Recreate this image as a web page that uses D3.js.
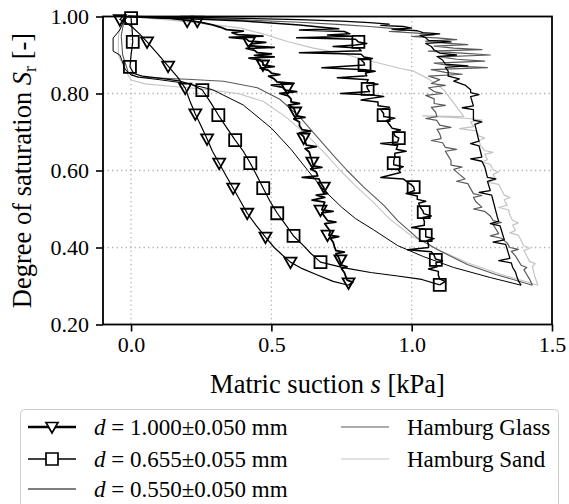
<!DOCTYPE html>
<html>
<head>
<meta charset="utf-8">
<script src="https://cdn.jsdelivr.net/npm/d3@7"></script>
<style>
body { margin: 0; background: #fff; }
text { font-family: "Liberation Serif", "Times New Roman", serif; fill: #000; }
</style>
</head>
<body>
<div class="canvas"></div>
<script>
const dims = {width: 569, height: 504};
const plot = {left: 103, top: 16.5, right: 552, bottom: 324.5};

// tick labels
const xTicks = [0.0, 0.5, 1.0, 1.5];
const yTicks = [0.20, 0.40, 0.60, 0.80, 1.00];

// d = 1.000 mm : drainage (noisy) and wetting
const d1000Drain = [[-0.01,1.0],[0.06,0.998],[0.14,0.995],[0.2,0.99],[0.25,0.985],[0.29,0.978],[0.32,0.972],[0.34,0.966],[0.40,0.962],[0.36,0.958],[0.38,0.953],[0.47,0.949],[0.35,0.946],[0.41,0.942],[0.42,0.936],[0.48,0.933],[0.43,0.929],[0.42,0.924],[0.51,0.92],[0.41,0.917],[0.44,0.912],[0.45,0.906],[0.50,0.903],[0.44,0.899],[0.51,0.895],[0.42,0.892],[0.46,0.887],[0.47,0.88],[0.47,0.874],[0.51,0.87],[0.46,0.866],[0.49,0.86],[0.50,0.853],[0.53,0.849],[0.49,0.845],[0.51,0.838],[0.52,0.83],[0.58,0.826],[0.50,0.822],[0.54,0.816],[0.55,0.809],[0.59,0.805],[0.53,0.8],[0.56,0.794],[0.57,0.786],[0.57,0.778],[0.60,0.774],[0.56,0.77],[0.58,0.762],[0.585,0.752],[0.59,0.742],[0.62,0.738],[0.58,0.734],[0.60,0.726],[0.60,0.716],[0.61,0.706],[0.64,0.702],[0.60,0.698],[0.615,0.688],[0.62,0.676],[0.625,0.666],[0.66,0.662],[0.62,0.657],[0.635,0.648],[0.64,0.636],[0.645,0.624],[0.65,0.612],[0.68,0.608],[0.64,0.604],[0.66,0.596],[0.665,0.586],[0.61,0.582],[0.67,0.578],[0.675,0.568],[0.685,0.558],[0.69,0.548],[0.70,0.54],[0.66,0.536],[0.69,0.53],[0.645,0.523],[0.69,0.518],[0.685,0.508],[0.68,0.498],[0.72,0.494],[0.68,0.49],[0.69,0.48],[0.70,0.47],[0.73,0.466],[0.69,0.462],[0.70,0.452],[0.71,0.442],[0.705,0.432],[0.74,0.428],[0.71,0.424],[0.72,0.414],[0.725,0.402],[0.73,0.392],[0.76,0.388],[0.73,0.384],[0.74,0.374],[0.745,0.364],[0.75,0.354],[0.77,0.35],[0.75,0.345],[0.76,0.335],[0.765,0.325],[0.77,0.315],[0.79,0.31],[0.775,0.302]];
const d1000DrainMarks = [[0.2,0.988],[0.236,0.988],[0.42,0.934],[0.47,0.874],[0.557,0.814],[0.585,0.752],[0.615,0.684],[0.646,0.622],[0.687,0.557],[0.675,0.497],[0.70,0.432],[0.746,0.368],[0.775,0.308]];
const d1000Wet = [[0.775,0.302],[0.72,0.312],[0.66,0.33],[0.61,0.345],[0.568,0.362],[0.54,0.38],[0.51,0.4],[0.479,0.427],[0.445,0.458],[0.414,0.489],[0.39,0.52],[0.364,0.554],[0.338,0.587],[0.314,0.619],[0.29,0.65],[0.271,0.682],[0.25,0.715],[0.229,0.747],[0.21,0.78],[0.193,0.814],[0.165,0.843],[0.132,0.871],[0.095,0.903],[0.057,0.934],[0.03,0.955],[0.005,0.972],[-0.02,0.985],[-0.04,0.992],[-0.03,1.0]];
const d1000WetMarks = [[0.568,0.362],[0.479,0.427],[0.414,0.489],[0.364,0.554],[0.314,0.619],[0.271,0.682],[0.229,0.747],[0.193,0.814],[0.132,0.871],[0.057,0.934],[-0.04,0.992]];

// d = 0.655 mm
const d0655Drain = [[-0.01,1.0],[0.1,0.997],[0.25,0.993],[0.4,0.988],[0.5,0.983],[0.6,0.978],[0.68,0.972],[0.74,0.968],[0.60,0.965],[0.76,0.961],[0.78,0.955],[0.70,0.952],[0.79,0.949],[0.59,0.945],[0.80,0.941],[0.81,0.934],[0.84,0.93],[0.80,0.926],[0.72,0.922],[0.81,0.918],[0.82,0.911],[0.60,0.906],[0.82,0.902],[0.83,0.895],[0.86,0.891],[0.82,0.887],[0.83,0.88],[0.832,0.874],[0.68,0.867],[0.835,0.862],[0.87,0.858],[0.835,0.853],[0.84,0.846],[0.735,0.841],[0.845,0.836],[0.84,0.828],[0.88,0.824],[0.84,0.82],[0.843,0.812],[0.85,0.805],[0.746,0.8],[0.86,0.796],[0.90,0.792],[0.86,0.788],[0.82,0.783],[0.88,0.778],[0.88,0.768],[0.92,0.764],[0.89,0.758],[0.9,0.748],[0.9,0.74],[0.94,0.736],[0.91,0.73],[0.92,0.72],[0.93,0.71],[0.96,0.705],[0.935,0.7],[0.94,0.69],[0.954,0.684],[0.95,0.674],[0.89,0.67],[0.95,0.665],[0.945,0.655],[0.98,0.65],[0.94,0.645],[0.94,0.635],[0.936,0.625],[0.936,0.615],[0.97,0.61],[0.95,0.603],[0.96,0.595],[0.89,0.582],[0.97,0.578],[0.985,0.57],[1.0,0.562],[1.007,0.557],[1.01,0.548],[0.98,0.54],[1.02,0.534],[1.02,0.525],[1.05,0.52],[1.025,0.515],[1.03,0.505],[1.04,0.495],[1.043,0.488],[1.07,0.482],[1.04,0.478],[1.045,0.468],[1.045,0.458],[1.00,0.452],[1.05,0.447],[1.05,0.437],[1.05,0.428],[1.08,0.423],[1.055,0.418],[1.06,0.408],[1.06,0.4],[0.986,0.394],[1.07,0.389],[1.08,0.38],[1.085,0.37],[1.11,0.365],[1.086,0.36],[1.09,0.35],[1.06,0.344],[1.095,0.338],[1.095,0.328],[1.1,0.318],[1.12,0.312],[1.1,0.303]];
const d0655DrainMarks = [[0.81,0.934],[0.832,0.874],[0.843,0.812],[0.9,0.744],[0.954,0.684],[0.936,0.619],[1.007,0.557],[1.043,0.492],[1.05,0.432],[1.086,0.368],[1.1,0.303]];
const d0655Wet = [[1.10,0.303],[1.036,0.317],[0.95,0.326],[0.854,0.335],[0.76,0.347],[0.675,0.362],[0.64,0.385],[0.61,0.408],[0.579,0.43],[0.55,0.46],[0.521,0.489],[0.495,0.52],[0.471,0.554],[0.448,0.587],[0.425,0.619],[0.4,0.65],[0.371,0.679],[0.34,0.712],[0.311,0.744],[0.285,0.775],[0.254,0.809],[0.22,0.822],[0.17,0.833],[0.1,0.84],[0.04,0.845],[0.01,0.852],[-0.004,0.869],[0.0,0.9],[0.006,0.934],[0.004,0.965],[0.0,0.996]];
const d0655WetMarks = [[0.675,0.362],[0.579,0.43],[0.521,0.489],[0.471,0.554],[0.425,0.619],[0.371,0.679],[0.311,0.744],[0.254,0.809],[-0.004,0.869],[0.006,0.934],[0.0,0.996]];

// d = 0.550 mm
const d0550Drain = [[-0.01,1.0],[0.2,0.998],[0.4,0.995],[0.6,0.992],[0.75,0.988],[0.85,0.984],[0.92,0.98],[0.89,0.977],[0.97,0.974],[1.0,0.97],[0.93,0.967],[1.02,0.963],[1.04,0.958],[1.10,0.955],[1.03,0.951],[1.05,0.945],[1.06,0.938],[1.14,0.934],[1.05,0.93],[1.07,0.922],[1.08,0.913],[1.10,0.905],[1.16,0.9],[1.09,0.896],[1.11,0.887],[1.12,0.876],[1.20,0.872],[1.12,0.868],[1.13,0.858],[1.13,0.845],[1.17,0.838],[1.15,0.832],[1.19,0.822],[1.21,0.81],[1.21,0.802],[1.24,0.797],[1.21,0.792],[1.215,0.78],[1.22,0.768],[1.18,0.763],[1.22,0.758],[1.22,0.745],[1.22,0.731],[1.25,0.726],[1.225,0.72],[1.23,0.706],[1.235,0.69],[1.24,0.676],[1.21,0.67],[1.24,0.664],[1.245,0.65],[1.25,0.635],[1.21,0.63],[1.25,0.624],[1.26,0.61],[1.265,0.596],[1.27,0.582],[1.30,0.578],[1.27,0.572],[1.275,0.56],[1.28,0.548],[1.24,0.543],[1.285,0.536],[1.29,0.522],[1.295,0.508],[1.30,0.494],[1.305,0.48],[1.31,0.468],[1.28,0.462],[1.315,0.456],[1.32,0.444],[1.325,0.432],[1.33,0.42],[1.29,0.414],[1.335,0.408],[1.34,0.396],[1.345,0.384],[1.35,0.372],[1.31,0.366],[1.355,0.36],[1.36,0.348],[1.37,0.336],[1.375,0.324],[1.38,0.314],[1.39,0.302]];
const d0550Wet = [[1.39,0.302],[1.28,0.322],[1.15,0.348],[1.043,0.376],[0.95,0.405],[0.864,0.446],[0.8,0.475],[0.75,0.505],[0.686,0.55],[0.63,0.6],[0.57,0.655],[0.5,0.71],[0.4,0.77],[0.29,0.81],[0.2,0.826],[0.1,0.836],[0.03,0.842],[0.0,0.848],[-0.02,0.862],[-0.04,0.9],[-0.064,0.91],[-0.064,0.944],[-0.04,0.965],[-0.025,0.99],[-0.01,1.0]];

// Hamburg Glass
const glassDrain = [[-0.01,1.0],[0.2,0.996],[0.4,0.991],[0.6,0.985],[0.75,0.979],[0.85,0.974],[0.93,0.969],[0.98,0.964],[0.92,0.961],[1.02,0.957],[1.08,0.952],[1.0,0.948],[1.10,0.944],[1.16,0.94],[1.05,0.936],[1.12,0.931],[1.20,0.927],[1.08,0.923],[1.15,0.918],[1.25,0.914],[1.06,0.91],[1.18,0.905],[1.28,0.9],[1.10,0.895],[1.16,0.889],[1.26,0.884],[1.08,0.879],[1.14,0.872],[1.27,0.867],[1.07,0.862],[1.12,0.855],[1.18,0.85],[1.06,0.845],[1.10,0.836],[1.07,0.826],[1.12,0.821],[1.06,0.815],[1.08,0.805],[1.11,0.8],[1.05,0.795],[1.08,0.786],[1.08,0.774],[1.12,0.769],[1.07,0.764],[1.085,0.752],[1.09,0.74],[1.05,0.735],[1.09,0.73],[1.10,0.718],[1.14,0.712],[1.09,0.707],[1.10,0.695],[1.105,0.683],[1.07,0.678],[1.11,0.672],[1.12,0.66],[1.16,0.655],[1.12,0.65],[1.13,0.638],[1.14,0.626],[1.14,0.614],[1.18,0.609],[1.15,0.603],[1.17,0.59],[1.19,0.578],[1.16,0.572],[1.20,0.566],[1.21,0.553],[1.22,0.54],[1.25,0.535],[1.22,0.53],[1.23,0.518],[1.25,0.505],[1.22,0.5],[1.26,0.494],[1.28,0.482],[1.29,0.47],[1.32,0.465],[1.29,0.46],[1.30,0.448],[1.31,0.436],[1.28,0.43],[1.32,0.424],[1.34,0.412],[1.35,0.4],[1.38,0.395],[1.355,0.39],[1.37,0.378],[1.38,0.366],[1.39,0.354],[1.41,0.348],[1.40,0.342],[1.41,0.33],[1.42,0.318],[1.43,0.302]];
const glassWet = [[1.43,0.302],[1.3,0.33],[1.2,0.355],[1.093,0.394],[1.02,0.425],[0.95,0.47],[0.9,0.51],[0.829,0.557],[0.77,0.6],[0.72,0.64],[0.66,0.69],[0.6,0.74],[0.53,0.785],[0.45,0.815],[0.33,0.832],[0.2,0.837],[0.1,0.84],[0.02,0.843],[-0.01,0.855],[-0.03,0.9],[-0.035,0.95],[-0.025,0.99],[-0.015,1.0]];

// Hamburg Sand
const sandDrain = [[-0.01,1.0],[0.15,0.99],[0.3,0.978],[0.39,0.97],[0.47,0.955],[0.557,0.935],[0.65,0.918],[0.746,0.905],[0.85,0.885],[0.96,0.865],[1.007,0.858],[1.06,0.838],[1.114,0.81],[1.15,0.775],[1.186,0.74],[1.04,0.742],[1.20,0.735],[1.25,0.731],[1.21,0.726],[1.22,0.714],[1.17,0.709],[1.23,0.703],[1.24,0.69],[1.26,0.684],[1.24,0.678],[1.245,0.665],[1.26,0.652],[1.29,0.647],[1.26,0.642],[1.27,0.628],[1.25,0.622],[1.28,0.616],[1.29,0.602],[1.31,0.596],[1.29,0.59],[1.30,0.576],[1.27,0.57],[1.31,0.564],[1.32,0.55],[1.33,0.536],[1.35,0.53],[1.33,0.524],[1.34,0.51],[1.31,0.504],[1.345,0.498],[1.35,0.484],[1.36,0.47],[1.38,0.464],[1.36,0.458],[1.37,0.444],[1.35,0.438],[1.38,0.432],[1.39,0.418],[1.40,0.404],[1.42,0.398],[1.40,0.392],[1.41,0.378],[1.42,0.364],[1.44,0.358],[1.43,0.35],[1.435,0.336],[1.44,0.322],[1.45,0.302]];
const sandWet = [[1.45,0.302],[1.32,0.33],[1.2,0.36],[1.093,0.395],[1.0,0.43],[0.92,0.475],[0.86,0.52],[0.80,0.56],[0.746,0.6],[0.69,0.645],[0.63,0.69],[0.55,0.74],[0.47,0.78],[0.38,0.8],[0.25,0.812],[0.15,0.818],[0.05,0.825],[0.0,0.835],[-0.02,0.86],[-0.045,0.9],[-0.045,0.95],[-0.035,0.99],[-0.02,1.0]];

const svg = d3.select('.canvas').append('svg')
  .attr('width', dims.width).attr('height', dims.height);

const x = d3.scaleLinear().domain([-0.1, 1.5]).range([plot.left, plot.right]);
const y = d3.scaleLinear().domain([0.2, 1.0]).range([plot.bottom, plot.top]);

// grid
const grid = svg.append('g').attr('stroke', '#b0b0b0').attr('stroke-width', 1.3)
  .attr('stroke-dasharray', '1.3,3.2');
grid.selectAll('.gx').data(xTicks.filter(d => d > -0.1 && d < 1.5)).enter().append('line')
  .attr('x1', d => x(d)).attr('x2', d => x(d)).attr('y1', plot.top).attr('y2', plot.bottom);
grid.selectAll('.gy').data(yTicks.filter(d => d > 0.2 && d < 1.0)).enter().append('line')
  .attr('x1', plot.left).attr('x2', plot.right).attr('y1', d => y(d)).attr('y2', d => y(d));

svg.append('clipPath').attr('id', 'clip').append('rect')
  .attr('x', plot.left).attr('y', plot.top - 2)
  .attr('width', plot.right - plot.left).attr('height', plot.bottom - plot.top + 2);

const graph = svg.append('g').attr('clip-path', 'url(#clip)');
const line = d3.line().x(d => x(d[0])).y(d => y(d[1]));

const series = [
  {data: sandDrain, color: '#c4c4c4', w: 1.2},
  {data: sandWet, color: '#c4c4c4', w: 1.1},
  {data: glassDrain, color: '#5a5a5a', w: 1.2},
  {data: glassWet, color: '#5a5a5a', w: 1.1},
  {data: d0550Drain, color: '#000', w: 1.3},
  {data: d0550Wet, color: '#000', w: 1.0},
  {data: d0655Drain, color: '#000', w: 1.5},
  {data: d0655Wet, color: '#000', w: 1.2},
  {data: d1000Drain, color: '#000', w: 1.8},
  {data: d1000Wet, color: '#000', w: 1.2}
];
graph.selectAll('path.curve').data(series).enter().append('path')
  .attr('class', 'curve')
  .attr('d', d => line(d.data))
  .attr('fill', 'none')
  .attr('stroke', d => d.color)
  .attr('stroke-width', d => d.w)
  .attr('stroke-linejoin', 'round');

// markers
const triPath = 'M-6,-4.5 L6,-4.5 L0,6 Z';
const sqPath = 'M-6,-6 H6 V6 H-6 Z';
const markG = svg.append('g');
markG.selectAll('path.tri').data(d1000DrainMarks.concat(d1000WetMarks)).enter().append('path')
  .attr('d', triPath)
  .attr('transform', d => `translate(${x(d[0])},${y(d[1])})`)
  .attr('fill', 'none').attr('stroke', '#000').attr('stroke-width', 1.8);
markG.selectAll('path.sq').data(d0655DrainMarks.concat(d0655WetMarks)).enter().append('path')
  .attr('d', sqPath)
  .attr('transform', d => `translate(${x(d[0])},${y(d[1])})`)
  .attr('fill', 'none').attr('stroke', '#000').attr('stroke-width', 1.8);

// axes
const xAxis = d3.axisBottom(x).tickValues(xTicks).tickFormat(d3.format('.1f'))
  .tickSize(7).tickSizeOuter(0).tickPadding(5);
const yAxis = d3.axisLeft(y).tickValues(yTicks).tickFormat(d3.format('.2f'))
  .tickSize(7).tickSizeOuter(0).tickPadding(7);
const xAxisGroup = svg.append('g').attr('transform', `translate(0,${plot.bottom})`).call(xAxis);
const yAxisGroup = svg.append('g').attr('transform', `translate(${plot.left},0)`).call(yAxis);
[xAxisGroup, yAxisGroup].forEach(g => {
  g.select('.domain').remove();
  g.selectAll('line').attr('stroke', '#000').attr('stroke-width', 1.6);
  g.selectAll('text').attr('font-family', '"Liberation Serif", serif').attr('font-size', 22).attr('fill', '#000');
});

// frame
svg.append('rect')
  .attr('x', plot.left).attr('y', plot.top)
  .attr('width', plot.right - plot.left).attr('height', plot.bottom - plot.top)
  .attr('fill', 'none').attr('stroke', '#000').attr('stroke-width', 1.8);

// axis labels
const xl = svg.append('text').attr('x', (plot.left + plot.right) / 2).attr('y', 393)
  .attr('text-anchor', 'middle').attr('font-size', 26.5);
xl.append('tspan').text('Matric suction ');
xl.append('tspan').attr('font-style', 'italic').text('s');
xl.append('tspan').text(' [kPa]');

const yl = svg.append('text')
  .attr('transform', `translate(31,${(plot.top + plot.bottom) / 2}) rotate(-90)`)
  .attr('text-anchor', 'middle').attr('font-size', 26.5);
yl.append('tspan').text('Degree of saturation ');
yl.append('tspan').attr('font-style', 'italic').text('S');
yl.append('tspan').attr('font-size', 18).attr('dy', 5).text('r');
yl.append('tspan').attr('dy', -5).text(' [-]');

// legend
const legend = svg.append('g');
legend.append('rect').attr('x', 20.5).attr('y', 409.5).attr('width', 538).attr('height', 110)
  .attr('rx', 4).attr('fill', '#fff').attr('stroke', '#cccccc').attr('stroke-width', 1);
const legItems = [
  {col: 0, row: 0, label: ['1.000', '0.050'], color: '#000', w: 2.4, mark: triPath},
  {col: 0, row: 1, label: ['0.655', '0.055'], color: '#000', w: 1.5, mark: sqPath},
  {col: 0, row: 2, label: ['0.550', '0.050'], color: '#000', w: 1.1, mark: null},
  {col: 1, row: 0, name: 'Hamburg Glass', color: '#5a5a5a', w: 1.1, mark: null},
  {col: 1, row: 1, name: 'Hamburg Sand', color: '#c4c4c4', w: 1.1, mark: null}
];
const colX = [28, 341];
const rowY = [427, 459, 489];
legItems.forEach(it => {
  const x0 = colX[it.col], yy = rowY[it.row];
  legend.append('line').attr('x1', x0).attr('x2', x0 + 48).attr('y1', yy).attr('y2', yy)
    .attr('stroke', it.color).attr('stroke-width', it.w);
  if (it.mark) {
    legend.append('path').attr('d', it.mark).attr('transform', `translate(${x0 + 24},${yy})`)
      .attr('fill', '#fff').attr('stroke', '#000').attr('stroke-width', 1.7);
  }
  const t = legend.append('text').attr('x', x0 + 66).attr('y', yy).attr('dy', '0.35em')
    .attr('font-size', 23);
  if (it.name) {
    t.text(it.name);
  } else {
    t.append('tspan').attr('font-style', 'italic').text('d');
    t.append('tspan').text(` = ${it.label[0]}\u00b1${it.label[1]} mm`);
  }
});
</script>
</body>
</html>
